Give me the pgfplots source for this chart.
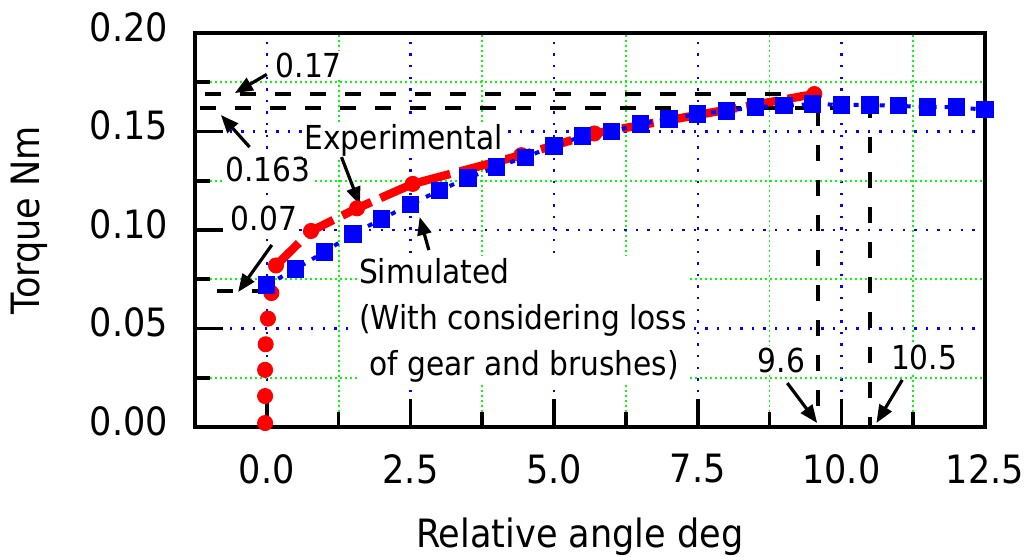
\documentclass[border=0pt]{standalone}
\usepackage{fontspec}
\setmainfont{DejaVu Sans}[FakeStretch=0.9]
\usepackage{pgfplots}
\pgfplotsset{compat=1.18}
\usetikzlibrary{arrows.meta}
\newcommand{\tf}{\fontsize{19.5}{23}\selectfont}
\newcommand{\af}{\fontsize{16.5}{23}\selectfont}
\begin{document}
\begin{tikzpicture}
\useasboundingbox (-97.5pt,-65pt) rectangle (417.5pt,213.5pt);
\begin{axis}[
 scale only axis, width=395pt, height=197pt,
 xmin=-1.25, xmax=12.5, ymin=0, ymax=0.2,
 xtick={0,2.5,5,7.5,10,12.5}, xticklabels={0.0,2.5,5.0,7.5,10.0,12.5},
 ytick={0,0.05,0.1,0.15,0.2}, yticklabels={0.00,0.05,0.10,0.15,0.20},
 minor x tick num=1, minor y tick num=1,
 xtick pos=bottom, ytick pos=left, tick align=inside,
 major tick length=14pt, minor tick length=7.5pt,
 tick style={black, line width=1.8pt},
 axis line style={line width=2pt},
 grid=both,
 major grid style={blue, line width=1.2pt, dash pattern=on 1.2pt off 4.6pt},
 minor grid style={green, line width=0.9pt, dash pattern=on 0.9pt off 1.6pt},
 ticklabel style={font=\tf},
 xticklabel style={yshift=-10pt},
 yticklabel style={xshift=-10pt, yshift=3pt},
 xlabel={Relative angle deg}, ylabel={Torque Nm},
 label style={font=\tf},
 xlabel style={at={(axis description cs:0.487,-0.279)}, anchor=center},
 ylabel style={at={(axis description cs:-0.21,0.525)}, anchor=center},
 clip=false,
]
% reference dashed lines
\addplot[black, line width=2pt, dash pattern=on 8pt off 9.5pt, no marks] coordinates {(-1.08,0.169) (9.6,0.169) (9.6,0)};
\addplot[black, line width=2pt, dash pattern=on 8pt off 9.5pt, no marks] coordinates {(-1.17,0.162) (10.5,0.162) (10.5,0)};
\addplot[black, line width=2pt, dash pattern=on 8pt off 9.5pt, no marks] coordinates {(-0.87,0.069) (0,0.069)};
% experimental
\addplot[red, line width=4.2pt, dash pattern=on 16pt off 5pt, no marks] coordinates {
(0.16,0.082) (0.77,0.0995) (1.57,0.111) (2.54,0.1234) (4.43,0.138) (5.70,0.149) (9.53,0.169)};
\addplot[red, only marks, mark=*, mark size=3.8pt] coordinates {
(-0.03,0.002) (-0.03,0.0157) (-0.03,0.029) (-0.02,0.042) (0.02,0.055) (0.08,0.068) (0.16,0.082)
(0.77,0.0995) (1.57,0.111) (2.54,0.1234) (4.43,0.138) (5.70,0.149) (9.53,0.169)};
% simulated
\addplot[blue, line width=2pt, dash pattern=on 2.5pt off 4pt, mark=square*, mark size=3.3pt, mark options={solid}] coordinates {
(0,0.0721) (0.5,0.0802) (1.0,0.0888) (1.5,0.098) (2.0,0.1056) (2.5,0.113) (3.0,0.120) (3.5,0.1264)
(4.0,0.132) (4.5,0.137) (5.0,0.1426) (5.5,0.1477) (6.0,0.150) (6.5,0.1538) (7.0,0.1563) (7.5,0.1589)
(8.0,0.1604) (8.5,0.1624) (9.0,0.163) (9.5,0.164) (10.0,0.1635) (10.5,0.1635) (11.0,0.163) (11.5,0.1624)
(12.0,0.1624) (12.5,0.161)};
% annotations
\tikzset{arr/.style={-{Triangle[length=9pt,width=7pt]}, line width=1.6pt, black}}
\node[font=\af, fill=white, inner sep=1pt] at (axis cs:0.73,0.1835) {0.17};
\draw[arr] (axis cs:0,0.179) -- (axis cs:-0.557,0.1695);
\node[font=\af, fill=white, inner sep=1pt] at (axis cs:0.017,0.1305) {0.163};
\draw[arr] (axis cs:-0.30,0.1421) -- (axis cs:-0.80,0.1584);
\node[font=\af, fill=white, inner sep=1pt] at (axis cs:2.38,0.1457) {Experimental};
\draw[arr] (axis cs:1.30,0.137) -- (axis cs:1.62,0.1127);
\node[font=\af, fill=white, inner sep=1pt] at (axis cs:-0.05,0.1056) {0.07};
\draw[arr] (axis cs:0.087,0.0924) -- (axis cs:-0.50,0.0685);
\node[font=\af, fill=white, inner sep=1pt, anchor=west, align=left] at (axis cs:1.565,0.0543) {Simulated\\(With considering loss\\\hspace*{5pt}of gear and brushes)};
\draw[arr] (axis cs:2.82,0.0898) -- (axis cs:2.66,0.1066);
\node[font=\af, fill=white, inner sep=1pt] at (axis cs:8.96,0.034) {9.6};
\draw[arr] (axis cs:9.06,0.0223) -- (axis cs:9.58,0.002);
\node[font=\af, fill=white, inner sep=1pt] at (axis cs:11.44,0.0355) {10.5};
\draw[arr] (axis cs:11.06,0.0239) -- (axis cs:10.61,0.002);
\end{axis}
\end{tikzpicture}
\end{document}
